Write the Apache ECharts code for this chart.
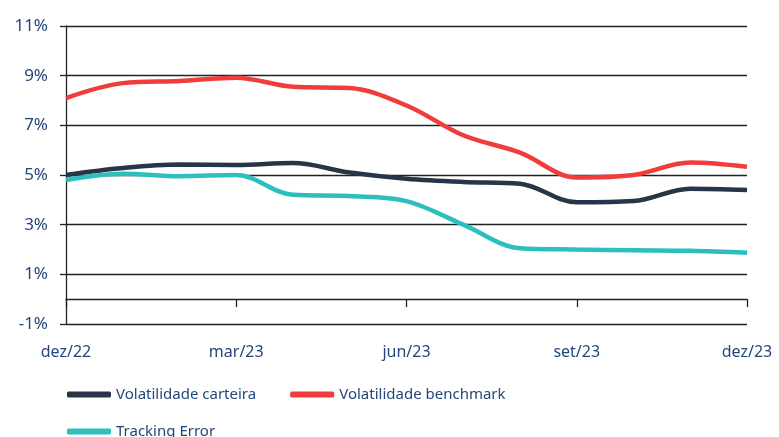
<!DOCTYPE html>
<html>
<head>
<meta charset="utf-8">
<script src="https://cdn.jsdelivr.net/npm/echarts@6/dist/echarts.min.js"></script>
<style>
  html, body { margin: 0; padding: 0; background: #fff; }
  #chart { width: 779px; height: 437px; }
</style>
</head>
<body>
<div id="chart"></div>
<script>
"use strict";

// months since dez/22, tick labels every quarter
const months = [0, 1, 2, 3, 4, 5, 6, 7, 8, 9, 10, 11, 12];
const tickLabels = { 0: "dez/22", 3: "mar/23", 6: "jun/23", 9: "set/23", 12: "dez/23" };

const volCarteira = [5.0, 5.28, 5.42, 5.4, 5.48, 5.1, 4.85, 4.72, 4.65, 3.9, 3.95, 4.45, 4.4];
const volBenchmark = [8.1, 8.7, 8.79, 8.92, 8.55, 8.5, 7.8, 6.6, 5.9, 4.9, 5.0, 5.5, 5.33];
const trackingError = [4.8, 5.05, 4.95, 5.0, 4.2, 4.15, 3.95, 3.0, 2.05, 2.0, 1.97, 1.95, 1.87];

const FONT = "'Noto Sans', sans-serif";
const TEXT = "#24477a";

function pairs(vals) {
  return vals.map((v, i) => [months[i], v]);
}

const chart = echarts.init(document.getElementById("chart"));

chart.setOption({
  animation: false,
  textStyle: { fontFamily: FONT },
  grid: { left: 66, right: 32, top: 26, bottom: 113 },
  legend: [
    {
      left: 62, top: 382,
      itemWidth: 44, itemHeight: 6, itemGap: 34,
      icon: "roundRect",
      textStyle: { color: TEXT, fontSize: 15, fontFamily: FONT },
      data: ["Volatilidade carteira", "Volatilidade benchmark"]
    },
    {
      left: 62, top: 419,
      itemWidth: 44, itemHeight: 6,
      icon: "roundRect",
      textStyle: { color: TEXT, fontSize: 15, fontFamily: FONT },
      data: ["Tracking Error"]
    }
  ],
  xAxis: [
    {
      type: "value", min: 0, max: 12, interval: 3,
      axisLine: { show: false, onZero: false },
      axisTick: { show: false },
      splitLine: { show: false },
      axisLabel: {
        margin: 20, color: TEXT, fontSize: 16, fontFamily: FONT,
        formatter: (v) => tickLabels[v] || ""
      }
    },
    {
      type: "value", min: 0, max: 12, interval: 3,
      position: "bottom",
      axisLine: { show: true, onZero: true, lineStyle: { color: "#222", width: 1.3 } },
      axisTick: { show: true, inside: false, length: 8, lineStyle: { color: "#222", width: 1.3 } },
      splitLine: { show: false },
      axisLabel: { show: false }
    }
  ],
  yAxis: {
    type: "value", min: -1, max: 11, interval: 2,
    axisLine: { show: true, lineStyle: { color: "#222", width: 1.3 } },
    axisTick: { show: true, length: 6, lineStyle: { color: "#222", width: 1.3 } },
    splitLine: { show: true, lineStyle: { color: "#222", width: 1.3 } },
    axisLabel: {
      margin: 18, color: TEXT, fontSize: 17, fontFamily: FONT,
      formatter: (v) => v + "%"
    }
  },
  series: [
    {
      name: "Volatilidade carteira", type: "line", smooth: 0.35,
      showSymbol: false, color: "#263547",
      lineStyle: { width: 4.5 },
      data: pairs(volCarteira)
    },
    {
      name: "Volatilidade benchmark", type: "line", smooth: 0.35,
      showSymbol: false, color: "#f03c3a",
      lineStyle: { width: 4.5 },
      data: pairs(volBenchmark)
    },
    {
      name: "Tracking Error", type: "line", smooth: 0.35,
      showSymbol: false, color: "#2cbfbd",
      lineStyle: { width: 4.5 },
      data: pairs(trackingError)
    }
  ]
});
</script>
</body>
</html>
